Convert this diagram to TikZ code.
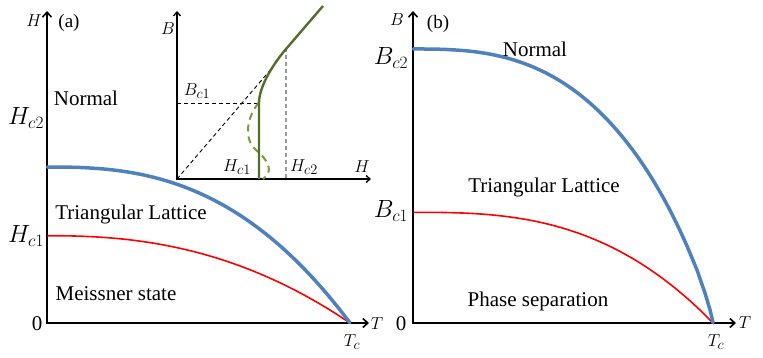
\documentclass[tikz,border=0pt]{standalone}
\usepackage{fontspec}
\setmainfont{Liberation Serif}
\newfontfamily\tnr{Liberation Serif}
\DeclareMathSizes{23}{23}{19}{14}
\DeclareMathSizes{19}{19}{15}{11}
\DeclareMathSizes{18}{18}{15}{10}
\DeclareMathSizes{21}{21}{17}{12}
\usetikzlibrary{arrows.meta}
\definecolor{pblue}{RGB}{79,129,189}
\definecolor{pred}{RGB}{255,0,0}
\definecolor{pgreen}{RGB}{84,110,46}
\definecolor{pgreenl}{RGB}{120,155,62}
\begin{document}
\begin{tikzpicture}[x=1pt,y=-1pt,
  mainaxis/.style={line width=1.8pt,-{Straight Barb[length=5pt,width=9pt,line width=1.6pt]}},
  insetaxis/.style={line width=1.4pt,-{Straight Barb[length=4pt,width=7pt,line width=1.3pt]}},
  bluecurve/.style={pblue,line width=3.5pt,line cap=round},
  redcurve/.style={pred,line width=1.6pt},
  blackdash/.style={black,line width=0.9pt,dash pattern=on 4pt off 3pt},
  graydash/.style={gray!80,line width=1.1pt,dash pattern=on 4pt off 3pt},
  greensolid/.style={pgreen,line width=2.4pt},
  greendash/.style={pgreenl,line width=2pt,dash pattern=on 7pt off 5pt},
  txt/.style={font=\tnr\fontsize{21}{25}\selectfont,inner sep=0pt},
  lab/.style={font=\tnr\fontsize{19}{23}\selectfont,inner sep=0pt},
  mbig/.style={font=\tnr\fontsize{23}{27}\selectfont,inner sep=0pt},
  msmall/.style={font=\tnr\fontsize{18}{22}\selectfont,inner sep=0pt},
]
\useasboundingbox (0,0) rectangle (763,358);

% ---------- panel (a) ----------
\coordinate (Oa) at (47,323);
\coordinate (Hatip) at (47,11);
\coordinate (Tatip) at (369,323);
\draw[mainaxis] (47,324) -- (Hatip);
\draw[mainaxis] (46.1,323) -- (Tatip);

\draw[redcurve] plot[domain=0.001:1,samples=100] ({47+303*\x},{323-87.3*(1-pow(\x,2.35))});
\draw[bluecurve] plot[domain=0.001:1,samples=100] ({47+303*\x},{323-156*(1-pow(\x,2.6))});

\node[lab] (Ha) at (34,21) {$H$};
\node[lab] (la) at (69,23) {(a)};
\node[txt] (zeroa) at (37,324) {0};
\node[mbig] (Hc2a) at (26,118) {$H_{c2}$};
\node[mbig] (Hc1a) at (26,236) {$H_{c1}$};
\node[txt,anchor=base] (norma) at (86,106) {Normal};
\node[txt,anchor=base] (tria) at (131,219) {Triangular Lattice};
\node[txt,anchor=base] (meis) at (116,300) {Meissner state};
\node[lab] (Ta) at (377,324) {$T$};
\node[lab] (Tca) at (352,342) {$T_c$};

% ---------- inset ----------
\coordinate (Oi) at (177,179);
\draw[insetaxis] (177,179.7) -- (177,11);
\draw[insetaxis] (176.3,179) -- (371,179);
\draw[blackdash] (177,103) -- (259,103);
\draw[blackdash] (Oi) -- (272,68);
\draw[graydash] (286,178) -- (286,50);
\draw[greendash] (258.5,103) .. controls (246,118) and (244,140) .. (256,150) .. controls (270,162) and (273,172) .. (263,179);
\draw[greensolid] (259,179) -- (259,103) .. controls (259,86) and (274,63) .. (286,49) -- (323,6);

\node[lab] (Bi) at (168,29) {$B$};
\node[msmall] (Bc1i) at (197,91) {$B_{c1}$};
\node[msmall] (Hc1i) at (237,167) {$H_{c1}$};
\node[msmall] (Hc2i) at (304,167) {$H_{c2}$};
\node[lab] (Hi) at (362,167) {$H$};

% ---------- panel (b) ----------
\coordinate (Ob) at (413,323);
\draw[mainaxis] (413,324) -- (413,11);
\draw[mainaxis] (412.1,323) -- (736,323);

\draw[redcurve] plot[domain=0.001:1,samples=100] ({413+300*\x},{323-110.7*(1-pow(\x,2.8))});
\draw[bluecurve] plot[domain=0.001:0.9995,samples=120] ({413+300*\x},{323-274*pow(1-pow(\x,2.8),0.85)}) -- (713,323);

\node[lab] (Bb) at (397,20) {$B$};
\node[lab] (lb) at (438,24) {(b)};
\node[mbig] (Bc2) at (391,58) {$B_{c2}$};
\node[mbig] (Bc1) at (391,211) {$B_{c1}$};
\node[txt] (zerob) at (401,324) {0};
\node[txt,anchor=base] (normb) at (535,57) {Normal};
\node[txt,anchor=base] (trib) at (544,193) {Triangular Lattice};
\node[txt,anchor=base] (phase) at (538,306) {Phase separation};
\node[lab] (Tb) at (745,323) {$T$};
\node[lab] (Tcb) at (716,342) {$T_c$};
\end{tikzpicture}
\end{document}
